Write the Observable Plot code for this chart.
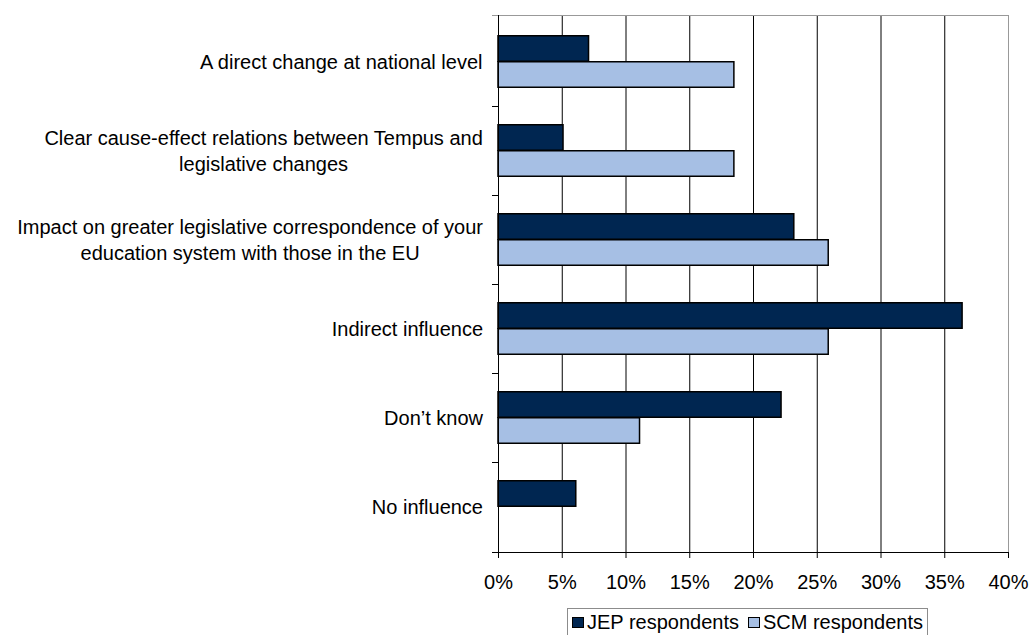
<!DOCTYPE html>
<html>
<head>
<meta charset="utf-8">
<script src="https://cdn.jsdelivr.net/npm/d3@7"></script>
<script src="https://cdn.jsdelivr.net/npm/@observablehq/plot@0.6"></script>
<style>
  body { margin: 0; background: #fff; font-family: "Liberation Sans", Arial, sans-serif; }
  #chart { position: relative; width: 1029px; height: 635px; overflow: hidden; }
  .legend {
    position: absolute; left: 567px; top: 608px;
    border: 1px solid #8c8c8c; padding: 1px 4px 2px 4px;
    font-size: 20px; line-height: 24px; color: #000; white-space: nowrap;
    display: flex; align-items: center;
  }
  .legend .item { display: flex; align-items: center; margin-right: 9px; }
  .legend .item:last-child { margin-right: 0; }
  .legend .swatch { width: 12px; height: 11px; border: 1px solid #000; margin-right: 3px; box-sizing: border-box; }
</style>
</head>
<body>
<div id="chart"></div>
<script>
// Survey answers: perceived influence of Tempus on national legislation
const categories = [
  "A direct change at national level",
  "Clear cause-effect relations between Tempus and legislative changes",
  "Impact on greater legislative correspondence of your education system with those in the EU",
  "Indirect influence",
  "Don\u2019t know",
  "No influence"
];
const categoryLines = [
  ["A direct change at national level"],
  ["Clear cause-effect relations between Tempus and", "legislative changes"],
  ["Impact on greater legislative correspondence of your", "education system with those in the EU"],
  ["Indirect influence"],
  ["Don\u2019t know"],
  ["No influence"]
];
const seriesNames = ["JEP respondents", "SCM respondents"];
const seriesColors = ["#002651", "#A6BFE4"];
const jepValues = [7.1, 5.1, 23.2, 36.4, 22.2, 6.1];
const scmValues = [18.5, 18.5, 25.9, 25.9, 11.1, 0];
const xTicks = [0, 5, 10, 15, 20, 25, 30, 35, 40];

const rows = categories.flatMap((c, i) => [
  {category: c, series: seriesNames[0], value: jepValues[i]},
  {category: c, series: seriesNames[1], value: scmValues[i]}
]);

// Layout
const W = 1029, H = 600;
const mTop = 15, mBottom = 48, mLeft = 498, mRight = 21;
const FONT = 20;
const band = (H - mTop - mBottom) / categories.length;
const barH = 26;
const pad = (band - 2 * barH) / 2;

const measureCtx = document.createElement("canvas").getContext("2d");
measureCtx.font = `${FONT}px "Liberation Sans", Arial, sans-serif`;

// Left axis: band boundary ticks, top/bottom lines, and centred multi-line labels
function leftAxis(index, scales, values, dims) {
  const y = scales.y, x = scales.x;
  const g = d3.create("svg:g");
  const x0 = dims.marginLeft;
  const xRight = x(40);
  const yTop = dims.marginTop, yBottom = dims.height - dims.marginBottom;
  const bounds = categories.map(c => y(c)).concat([yBottom]);
  g.append("line").attr("x1", x0 - 6).attr("x2", xRight).attr("y1", yTop + 0.5).attr("y2", yTop + 0.5)
    .attr("stroke", "#999");
  g.append("line").attr("x1", x0 - 6).attr("x2", xRight).attr("y1", yBottom + 0.5).attr("y2", yBottom + 0.5)
    .attr("stroke", "#000");
  g.append("line").attr("x1", x0 + 0.5).attr("x2", x0 + 0.5).attr("y1", yTop).attr("y2", yBottom)
    .attr("stroke", "#000");
  bounds.slice(1, -1).forEach(b => {
    g.append("line").attr("x1", x0 - 6).attr("x2", x0).attr("y1", b + 0.5).attr("y2", b + 0.5)
      .attr("stroke", "#000");
  });
  const lineH = 26;
  categories.forEach((c, i) => {
    const lines = categoryLines[i];
    const w = d3.max(lines, l => measureCtx.measureText(l).width);
    const cx = x0 - 15 - w / 2;
    const cy = y(c) + band / 2;
    const t = g.append("text")
      .attr("text-anchor", "middle")
      .attr("font-size", FONT)
      .attr("fill", "#000");
    lines.forEach((l, k) => {
      t.append("tspan")
        .attr("x", cx)
        .attr("y", cy + (k - (lines.length - 1) / 2) * lineH)
        .attr("dy", "0.35em")
        .text(l);
    });
  });
  return g.node();
}

const plot = Plot.plot({
  width: W,
  height: H,
  marginTop: mTop,
  marginBottom: mBottom,
  marginLeft: mLeft,
  marginRight: mRight,
  style: {fontFamily: '"Liberation Sans", Arial, sans-serif', fontSize: FONT + "px", color: "#000", background: "#fff"},
  x: {domain: [0, 40], label: null},
  y: {type: "band", domain: categories, padding: 0, axis: null},
  color: {domain: seriesNames, range: seriesColors},
  marks: [
    Plot.gridX(xTicks.filter(t => t > 0 && t < 40), {stroke: "#000", strokeOpacity: 1}),
    Plot.ruleX([40], {stroke: "#999"}),
    Plot.barX(rows.filter(d => d.series === seriesNames[0] && d.value > 0), {
      x: "value", y: "category", fill: "series", stroke: "#000", strokeWidth: 1.5,
      insetTop: pad, insetBottom: band - pad - barH
    }),
    Plot.barX(rows.filter(d => d.series === seriesNames[1] && d.value > 0), {
      x: "value", y: "category", fill: "series", stroke: "#000", strokeWidth: 1.5,
      insetTop: pad + barH, insetBottom: pad
    }),
    leftAxis,
    Plot.axisX(xTicks, {tickFormat: d => d + "%", tickSize: 6, tickPadding: 16, fontSize: FONT, label: null})
  ]
});

const chart = document.getElementById("chart");
chart.appendChild(plot);

// Legend below the plot
const legend = document.createElement("div");
legend.className = "legend";
seriesNames.forEach((name, i) => {
  const item = document.createElement("span");
  item.className = "item";
  const sw = document.createElement("span");
  sw.className = "swatch";
  sw.style.background = seriesColors[i];
  const label = document.createElement("span");
  label.textContent = name;
  item.appendChild(sw);
  item.appendChild(label);
  legend.appendChild(item);
});
chart.appendChild(legend);
</script>
</body>
</html>
